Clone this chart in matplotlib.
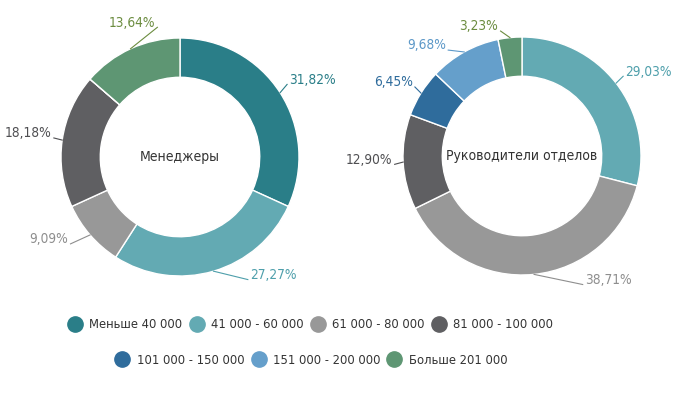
import matplotlib
matplotlib.use("Agg")
import matplotlib.pyplot as plt
import numpy as np
from matplotlib.lines import Line2D

plt.rcParams['font.family'] = ['DejaVu Sans']
plt.rcParams['font.stretch'] = 'condensed'

categories = ['Меньше 40 000', '41 000 - 60 000', '61 000 - 80 000', '81 000 - 100 000',
              '101 000 - 150 000', '151 000 - 200 000', 'Больше 201 000']
colors = ['#2a7e88', '#63aab3', '#989898', '#5f5f62', '#2f6c9c', '#659fcb', '#5e9673']
label_colors = ['#2a7e88', '#4e9fab', '#8e8e8e', '#4f4f52', '#2f6c9c', '#5c98c8', '#6b8c3f']

managers = [31.82, 27.27, 9.09, 18.18, 0, 0, 13.64]
heads = [0, 29.03, 38.71, 12.90, 6.45, 9.68, 3.23]

# label text anchor (x, y, ha) in radius units, per slice
managers_lbl = [(0.92, 0.65, 'left'), (0.59, -0.99, 'left'), (-0.94, -0.69, 'right'),
                (-1.08, 0.20, 'right'), None, None, (-0.21, 1.13, 'right')]
heads_lbl = [None, (0.87, 0.71, 'left'), (0.53, -1.04, 'left'), (-1.09, -0.03, 'right'),
             (-0.92, 0.62, 'right'), (-0.64, 0.93, 'right'), (-0.20, 1.09, 'right')]

R = 119.0  # pixels per radius unit
fig = plt.figure(figsize=(6.83, 3.96), dpi=100)


def donut(rect_px, center_px, values, labels_pos, title):
    x0, y0, x1, y1 = rect_px
    cx, cy = center_px
    ax = fig.add_axes([x0 / 683, 1 - y1 / 396, (x1 - x0) / 683, (y1 - y0) / 396])
    wedges, _ = ax.pie(values, colors=colors, startangle=90, counterclock=False,
                       radius=1.0, wedgeprops=dict(width=0.33, edgecolor='white', linewidth=1))
    ax.set_aspect('auto')
    ax.set_xlim((x0 - cx) / R, (x1 - cx) / R)
    ax.set_ylim(-(y1 - cy) / R, (cy - y0) / R)
    ax.axis('off')
    for i, w in enumerate(wedges):
        if values[i] == 0 or labels_pos[i] is None:
            continue
        ang = np.deg2rad((w.theta1 + w.theta2) / 2)
        ex, ey = np.cos(ang), np.sin(ang)
        tx, ty, ha = labels_pos[i]
        lx = tx - 0.02 if ha == 'left' else tx + 0.02
        ax.plot([ex, lx], [ey, ty - 0.04], color=label_colors[i], lw=0.8)
        txt = ('%.2f%%' % values[i]).replace('.', ',')
        ax.text(tx, ty, txt, ha=ha, va='center', fontsize=9.8, color=label_colors[i])
    ax.text(0, 0, title, ha='center', va='center', fontsize=10, color='#333333')


donut((0, 0, 341, 296), (180, 157), managers, managers_lbl, 'Менеджеры')
donut((341, 0, 683, 296), (522, 156), heads, heads_lbl, 'Руководители отделов')

handles = [Line2D([], [], marker='o', ls='none', markersize=11, color=c) for c in colors]
leg_kw = dict(loc='center', frameon=False, fontsize=9.3, handletextpad=0.5,
              columnspacing=0.5, handlelength=1.2, labelcolor='#333333')
fig.legend(handles[:4], categories[:4], ncol=4,
           bbox_to_anchor=(310 / 683, 1 - 325 / 396), **leg_kw)
fig.legend(handles[4:], categories[4:], ncol=3,
           bbox_to_anchor=(311 / 683, 1 - 360 / 396), **leg_kw)

fig.savefig('out.png', dpi=100)
